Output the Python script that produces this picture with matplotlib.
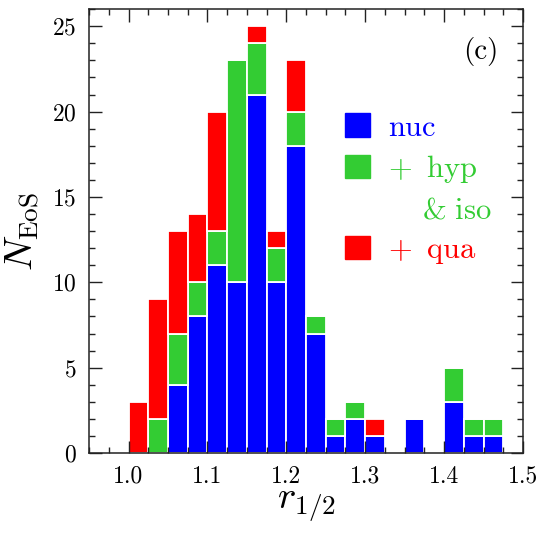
import numpy as np
import matplotlib
matplotlib.use('Agg')
import matplotlib.pyplot as plt
from matplotlib.patches import Patch
from matplotlib.ticker import MultipleLocator

plt.rcParams['font.family'] = 'serif'
plt.rcParams['font.serif'] = ['cmr10']
plt.rcParams['mathtext.fontset'] = 'cm'
plt.rcParams['axes.formatter.use_mathtext'] = True

# histogram bins of r_1/2 (width 0.025), starting at 1.0
nuc = [0, 0, 4, 8, 11, 10, 21, 10, 18, 7, 1, 2, 1, 0, 2, 0, 3, 1, 1]
hyp = [0, 2, 3, 2, 2, 13, 3, 2, 2, 1, 1, 1, 0, 0, 0, 0, 2, 1, 1]
qua = [3, 7, 6, 4, 7, 0, 1, 1, 3, 0, 0, 0, 1, 0, 0, 0, 0, 0, 0]
r_start = 1.0
w = 0.025

c_nuc = '#0000ff'
c_hyp = '#33cc33'
c_qua = '#ff0000'

nuc = np.array(nuc)
hyp = np.array(hyp)
qua = np.array(qua)
x = r_start + w * (np.arange(len(nuc)) + 0.5)

fig = plt.figure(figsize=(5.4, 5.4), dpi=100)
ax = fig.add_axes([0.165, 0.161, 0.8035, 0.822])

kw = dict(width=w, edgecolor='white', linewidth=1.3)
ax.bar(x, nuc, color=c_nuc, **kw)
ax.bar(x, hyp, bottom=nuc, color=c_hyp, **kw)
ax.bar(x, qua, bottom=nuc + hyp, color=c_qua, **kw)

ax.set_xlim(0.95, 1.5)
ax.set_ylim(0, 26)
ax.xaxis.set_major_locator(MultipleLocator(0.1))
ax.xaxis.set_minor_locator(MultipleLocator(0.025))
ax.yaxis.set_major_locator(MultipleLocator(5))
ax.yaxis.set_minor_locator(MultipleLocator(1))
ax.xaxis.set_major_formatter(plt.FuncFormatter(lambda v, p: '%.1f' % v))
ax.tick_params(which='both', direction='in', top=True, right=True, width=1.0,
               labelsize=17, color='#222222')
ax.tick_params(which='major', length=9, pad=9)
ax.tick_params(which='minor', length=4.5)
for s in ax.spines.values():
    s.set_linewidth(1.1)
    s.set_color('#222222')

ax.set_xlabel(r'$r_{1/2}$', fontsize=28, labelpad=0)
ax.set_ylabel(r'$N_{\rm EoS}$', fontsize=28, labelpad=7)

ax.text(0.903, 0.905, '(c)', transform=ax.transAxes, fontsize=21,
        ha='center', va='center')

handles = [Patch(color=c_nuc), Patch(color=c_hyp),
           Patch(facecolor='none', edgecolor='none'), Patch(color=c_qua)]
labels = [r'$\mathrm{nuc}$', r'$+\;\;\mathrm{hyp}$',
          r'$\quad\;\mathrm{&\ iso}$', r'$+\;\;\mathrm{qua}$']
ax.legend(handles, labels, loc='upper left', bbox_to_anchor=(0.59, 0.765),
          frameon=False, fontsize=22, handlelength=0.82, handleheight=0.8,
          handletextpad=0.6, labelspacing=0.37, borderpad=0, borderaxespad=0,
          labelcolor=[c_nuc, c_hyp, c_hyp, c_qua])

fig.savefig('out.png', dpi=100)
